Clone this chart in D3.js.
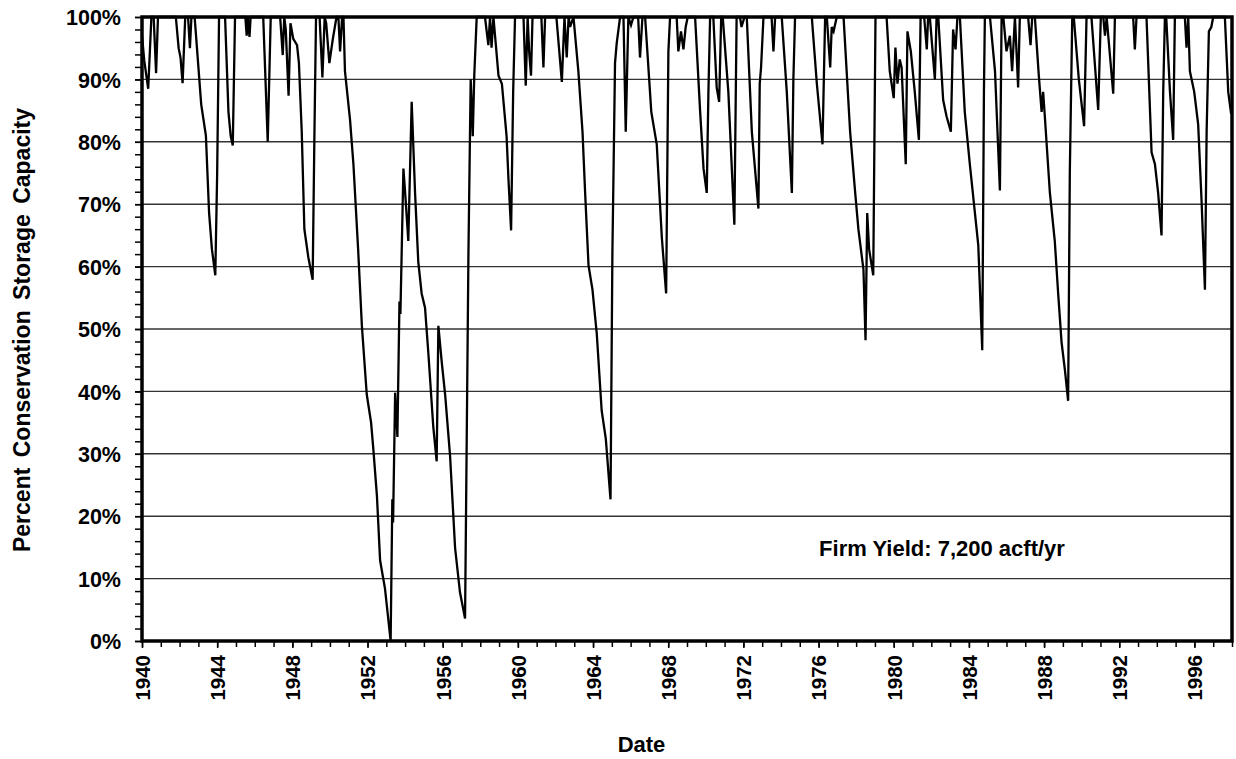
<!DOCTYPE html>
<html>
<head>
<meta charset="utf-8">
<script src="https://cdn.jsdelivr.net/npm/d3@7"></script>
<style>
  html, body { margin: 0; padding: 0; background: #fff; }
  svg text { font-family: "Liberation Sans", Arial, sans-serif; font-weight: bold; fill: #000; }
</style>
</head>
<body>
<svg id="chart"></svg>
<script>
// storage trace: [decimal year, percent of conservation capacity]
const storage = [
  [1940.00, 97], [1940.12, 93], [1940.33, 88.5], [1940.50, 100], [1940.62, 100], [1940.75, 91], [1940.85, 100],
  [1941.80, 100], [1941.95, 95], [1942.05, 93.5], [1942.16, 89.4], [1942.30, 100], [1942.45, 100], [1942.55, 95], [1942.63, 100],
  [1942.80, 100], [1943.15, 86], [1943.40, 81], [1943.57, 68.6], [1943.72, 62.8], [1943.90, 58.6], [1944.00, 75], [1944.10, 100],
  [1944.42, 100], [1944.60, 84.8], [1944.72, 80.9], [1944.83, 79.4], [1944.95, 100],
  [1945.50, 100], [1945.57, 97], [1945.63, 100], [1945.72, 96.8], [1945.78, 100],
  [1946.45, 100], [1946.69, 80], [1946.85, 100],
  [1947.35, 100], [1947.49, 93.9], [1947.57, 100], [1947.65, 98], [1947.80, 87.4], [1947.90, 99],
  [1948.05, 96.5], [1948.25, 95.5], [1948.35, 92.6], [1948.50, 81.6], [1948.64, 66], [1948.85, 61.5], [1949.08, 57.9], [1949.17, 80], [1949.26, 100],
  [1949.45, 100], [1949.60, 90.3], [1949.72, 100], [1949.80, 99], [1949.97, 92.6], [1950.15, 96.4], [1950.35, 100], [1950.45, 100], [1950.54, 94.5], [1950.65, 100],
  [1950.72, 100], [1950.80, 91.3], [1951.07, 83.5], [1951.25, 76.4], [1951.50, 62.8], [1951.70, 50.5], [1951.96, 39.5], [1952.19, 35], [1952.30, 31.1],
  [1952.50, 23.3], [1952.67, 12.9], [1952.93, 8.4], [1953.23, 0],
  [1953.32, 22.7], [1953.36, 19], [1953.47, 39.8], [1953.59, 32.7], [1953.70, 54.4], [1953.75, 52.4], [1953.91, 75.7], [1954.03, 70.6], [1954.17, 64.1],
  [1954.35, 86.4], [1954.53, 71.8], [1954.70, 60.8], [1954.88, 55.7], [1955.06, 53.4], [1955.24, 46], [1955.50, 34.3], [1955.68, 28.8], [1955.77, 50.5],
  [1955.95, 44.7], [1956.13, 39.5], [1956.39, 29.8], [1956.66, 14.9], [1956.92, 7.8], [1957.19, 3.6],
  [1957.37, 62.1], [1957.49, 90], [1957.60, 80.9], [1957.68, 90.6], [1957.81, 100],
  [1958.25, 100], [1958.43, 95.5], [1958.52, 100], [1958.60, 95.1], [1958.70, 100], [1958.97, 90.6], [1959.15, 89.3], [1959.40, 80.9], [1959.50, 74],
  [1959.64, 65.8], [1959.75, 88], [1959.85, 100],
  [1960.30, 100], [1960.42, 89], [1960.52, 100], [1960.60, 94.5], [1960.70, 90.6], [1960.78, 100],
  [1961.25, 100], [1961.36, 91.9], [1961.45, 100],
  [1962.05, 100], [1962.34, 89.6], [1962.48, 100], [1962.60, 93.5], [1962.70, 100], [1962.78, 98.4], [1962.96, 100],
  [1963.22, 91.3], [1963.44, 81.6], [1963.58, 71.8], [1963.76, 60.2], [1963.97, 56.3], [1964.20, 49.2], [1964.46, 36.9], [1964.68, 32.4], [1964.93, 22.7],
  [1965.03, 62.1], [1965.09, 75], [1965.17, 92.6], [1965.26, 95.8], [1965.44, 100],
  [1965.62, 100], [1965.74, 81.6], [1965.88, 100], [1966.02, 98.7], [1966.15, 100], [1966.40, 100], [1966.50, 93.5], [1966.63, 100],
  [1966.77, 100], [1967.10, 84.8], [1967.39, 79.6], [1967.66, 64.7], [1967.89, 55.7], [1968.01, 94.5], [1968.10, 100],
  [1968.45, 100], [1968.54, 94.5], [1968.68, 97.7], [1968.81, 94.8], [1968.93, 98.4], [1969.04, 100],
  [1969.43, 100], [1969.70, 84.8], [1969.88, 75.7], [1970.05, 71.8], [1970.14, 88], [1970.23, 100],
  [1970.40, 100], [1970.58, 88.7], [1970.71, 86.4], [1970.82, 100],
  [1970.90, 100], [1971.20, 88], [1971.52, 66.7], [1971.64, 100],
  [1971.82, 100], [1971.90, 98.4], [1972.06, 100], [1972.18, 100], [1972.45, 81.6], [1972.80, 69.3], [1972.87, 89.3], [1972.94, 91.9], [1973.07, 100],
  [1973.50, 100], [1973.60, 94.5], [1973.69, 100],
  [1974.04, 100], [1974.31, 88], [1974.58, 71.8], [1974.66, 90], [1974.75, 100],
  [1975.64, 100], [1975.91, 89.3], [1976.21, 79.6], [1976.35, 100],
  [1976.44, 100], [1976.62, 91.9], [1976.70, 98.4], [1976.80, 97.7], [1976.97, 100],
  [1977.33, 100], [1977.68, 81.6], [1977.95, 71.8], [1978.12, 66], [1978.39, 59.5], [1978.50, 48.2], [1978.59, 68.6], [1978.69, 62.8], [1978.91, 58.6], [1979.03, 100],
  [1979.62, 100], [1979.79, 91.3], [1980.00, 87], [1980.09, 95.1], [1980.20, 89.3], [1980.32, 93.2], [1980.42, 91.9], [1980.64, 76.4], [1980.73, 97.7],
  [1980.91, 94.5], [1981.12, 88], [1981.34, 80.3], [1981.43, 100],
  [1981.62, 100], [1981.76, 94.8], [1981.83, 100], [1981.92, 100], [1982.19, 90], [1982.28, 100],
  [1982.37, 100], [1982.63, 86.7], [1982.81, 84.1], [1983.04, 81.6], [1983.16, 98], [1983.29, 94.8], [1983.39, 100],
  [1983.52, 100], [1983.78, 84.8], [1984.05, 76.4], [1984.32, 68.6], [1984.50, 63.4], [1984.71, 46.6], [1984.80, 88], [1984.85, 100],
  [1985.12, 100], [1985.39, 91.3], [1985.65, 72.2], [1985.74, 100],
  [1985.83, 100], [1986.00, 94.5], [1986.18, 97], [1986.30, 91.3], [1986.45, 100], [1986.62, 88.7], [1986.71, 100],
  [1987.15, 100], [1987.28, 95.5], [1987.37, 100],
  [1987.51, 100], [1987.72, 90.6], [1987.87, 84.8], [1987.95, 88], [1988.04, 84.1], [1988.31, 71.8], [1988.57, 64.1], [1988.75, 55.7], [1988.93, 47.9],
  [1989.11, 43.4], [1989.28, 38.5], [1989.37, 75], [1989.50, 100],
  [1989.58, 100], [1989.85, 90], [1990.13, 82.5], [1990.26, 100],
  [1990.52, 100], [1990.88, 85.1], [1991.02, 100],
  [1991.15, 100], [1991.24, 97], [1991.33, 100], [1991.68, 87.7], [1991.77, 100],
  [1992.74, 100], [1992.83, 94.8], [1992.92, 100],
  [1993.45, 100], [1993.72, 78.3], [1993.90, 76.4], [1994.07, 71.8], [1994.25, 65], [1994.34, 88], [1994.43, 100],
  [1994.50, 100], [1994.70, 88], [1994.87, 80.3], [1994.96, 100],
  [1995.49, 100], [1995.58, 95.1], [1995.67, 100], [1995.76, 91.3], [1995.99, 88], [1996.20, 82.8], [1996.38, 70.6], [1996.56, 56.3],
  [1996.65, 81.6], [1996.77, 97.7], [1996.90, 98.4], [1997.00, 100],
  [1997.62, 100], [1997.80, 88], [1997.94, 84.8], [1998.00, 85]
];

const yearTicks = d3.range(1940, 1997, 4);      // labelled years
const yearMinor = d3.range(1940, 1999, 1);      // small ticks each year
const pctTicks = d3.range(0, 101, 10);
const pctMinor = d3.range(0, 101, 2);
const yLabel = 'Percent Conservation Storage Capacity';
const xLabel = 'Date';
const note = 'Firm Yield: 7,200 acft/yr';

const W = 1236, H = 759;
const margin = {top: 17, right: 4, bottom: 118, left: 142};
const width = W - margin.left - margin.right,
  height = H - margin.top - margin.bottom;

const svg = d3.select('#chart').attr('width', W).attr('height', H);
const g = svg.append('g').attr('transform', 'translate(' + margin.left + ',' + margin.top + ')');

const x = d3.scaleLinear().domain([1940, 1998]).range([0, width]);
const y = d3.scaleLinear().domain([0, 100]).range([height, 0]);

// horizontal grid
g.append('g')
  .selectAll('line')
  .data(pctTicks)
  .join('line')
  .attr('x1', 0).attr('x2', width)
  .attr('y1', d => y(d)).attr('y2', d => y(d))
  .attr('stroke', '#333').attr('stroke-width', 1.4);

// minor ticks first, major axes on top
g.append('g')
  .call(d3.axisLeft(y).tickValues(pctMinor).tickSize(7).tickFormat(''))
  .call(s => s.select('.domain').remove())
  .selectAll('line').attr('stroke-width', 1.5);

g.append('g')
  .attr('transform', 'translate(0,' + height + ')')
  .call(d3.axisBottom(x).tickValues(yearMinor).tickSize(6).tickFormat(''))
  .call(s => s.select('.domain').remove())
  .selectAll('line').attr('stroke-width', 1.5);

const yAxis = g.append('g')
  .call(d3.axisLeft(y).tickValues(pctTicks).tickSize(7).tickPadding(14).tickFormat(d => d + '%'));
yAxis.select('.domain').remove();
yAxis.selectAll('line').attr('stroke-width', 1.5);
yAxis.selectAll('text').attr('font-size', 21.5).attr('dy', '0.36em');

const xAxis = g.append('g')
  .attr('transform', 'translate(0,' + height + ')')
  .call(d3.axisBottom(x).tickValues(yearTicks).tickSize(7).tickFormat(d3.format('d')));
xAxis.select('.domain').remove();
xAxis.selectAll('line').attr('stroke-width', 1.5);
xAxis.selectAll('text')
  .attr('font-size', 20.5)
  .attr('transform', 'rotate(-90)')
  .attr('text-anchor', 'end')
  .attr('x', -14)
  .attr('y', 0)
  .attr('dy', '0.36em');

// series
const line = d3.line().x(d => x(d[0])).y(d => y(d[1]));
g.append('path')
  .datum(storage)
  .attr('fill', 'none')
  .attr('stroke', '#000')
  .attr('stroke-width', 2.3)
  .attr('stroke-linejoin', 'miter')
  .attr('d', line);

// plot frame
g.append('rect')
  .attr('x', 0).attr('y', 0)
  .attr('width', width).attr('height', height)
  .attr('fill', 'none')
  .attr('stroke', '#000')
  .attr('stroke-width', 3.5);

g.append('text')
  .attr('x', x(1976.03)).attr('y', y(14.9))
  .attr('font-size', 22)
  .attr('dy', '0.35em')
  .text(note);

svg.append('text')
  .attr('transform', 'translate(30,330) rotate(-90)')
  .attr('text-anchor', 'middle')
  .attr('font-size', 23)
  .attr('word-spacing', 4)
  .text(yLabel);

svg.append('text')
  .attr('x', 641.5).attr('y', 752)
  .attr('text-anchor', 'middle')
  .attr('font-size', 22)
  .text(xLabel);
</script>
</body>
</html>
